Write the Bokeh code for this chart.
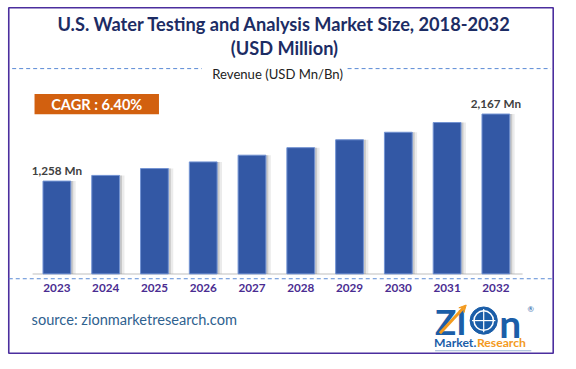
from bokeh.plotting import figure
from bokeh.models import Range1d, Label, ColumnDataSource, Arrow, VeeHead
from bokeh.embed import file_html
from bokeh.resources import INLINE
from bokeh.core.properties import value
from bokeh.transform import dodge

# ---------------- data ----------------
years = [2023, 2024, 2025, 2026, 2027, 2028, 2029, 2030, 2031, 2032]
revenue = [1258, 1335, 1428, 1518, 1609, 1711, 1818, 1920, 2052, 2167]
year_labels = [str(y) for y in years]
title_line1 = "U.S. Water Testing and Analysis Market Size, 2018-2032"
title_line2 = "(USD Million)"
legend_text = "Revenue (USD Mn/Bn)"
cagr_text = "CAGR : 6.40%"
source_text = "source: zionmarketresearch.com"
unit = "Mn"

# ---------------- reference-pixel -> data helpers ----------------
REF_W, REF_H = 576, 369
S = 560 / REF_W                    # canvas scale
W, H = 560, round(REF_H * S)
BASE_PY = 281.0      # ref y of the bar baseline
TOP_PY = 116.7       # ref y of the tallest bar top
K = max(revenue) / (BASE_PY - TOP_PY)
X0_PX = 58.0         # ref x of first bar centre
X_STEP = 50.17       # ref px between bars


def X(px):
    return years[0] + (px - X0_PX) / X_STEP


def Y(py):
    return (BASE_PY - py) * K


def fs(px):
    return f"{px * S:.1f}px"


FONT = "Lato"
p = figure(width=W, height=H,
           x_range=Range1d(X(0), X(REF_W)), y_range=Range1d(Y(REF_H), Y(0)),
           output_backend="svg", toolbar_location=None,
           x_axis_location=None, y_axis_location=None, min_border=0)
p.grid.visible = False
p.background_fill_color = "white"
p.border_fill_color = "white"
p.outline_line_color = None

src = ColumnDataSource(dict(year=years, revenue=revenue))

# border frame
p.quad(left=[X(8.5)], right=[X(568.5)], top=[Y(7.5)], bottom=[Y(362.5)],
       fill_color=None, line_color="#4B2E9E", line_width=1.6)

# baseline (light gray)
p.segment(x0=[X(33)], y0=[0], x1=[X(537)], y1=[0], line_color="#d4d4d4", line_width=1.5)

# bar shadows
p.vbar(x=dodge("year", 0.10, range=p.x_range), top="revenue", bottom=0, width=0.57,
       source=src, fill_color="#b0b0b0", fill_alpha=0.25, line_color=None)
p.vbar(x=dodge("year", 0.05, range=p.x_range), top="revenue", bottom=0, width=0.57,
       source=src, fill_color="#8a8a8a", fill_alpha=0.35, line_color=None)
# bars
p.vbar(x="year", top="revenue", bottom=0, width=0.57, source=src,
       fill_color="#3358A5", line_color="#7393D3", line_width=1)

# value labels for first and last bar
lab_src = ColumnDataSource(dict(year=[years[0], years[-1]], revenue=[revenue[0], revenue[-1]],
                                label=[f"{revenue[0]:,} {unit}", f"{revenue[-1]:,} {unit}"]))
p.text(x="year", y="revenue", text="label", source=lab_src, text_align="center",
       text_baseline="bottom", y_offset=-4, text_font=value(FONT), text_font_style="bold",
       text_font_size=fs(12), text_color="#404040")

# year labels (category axis)
yl_src = ColumnDataSource(dict(year=years, label=year_labels, ypos=[Y(296)] * len(years)))
p.text(x="year", y="ypos", text="label", source=yl_src, text_align="center",
       text_baseline="middle", text_font=value(FONT), text_font_style="bold",
       text_font_size=fs(12), text_color="#4A2C91")

# dashed lines
p.segment(x0=[X(8.5)], y0=[Y(286)], x1=[X(568.5)], y1=[Y(286)],
          line_color="#5B8BD6", line_dash="4 3", line_width=1)
p.segment(x0=[X(12), X(357)], y0=[Y(70), Y(70)], x1=[X(207), X(566)], y1=[Y(70), Y(70)],
          line_color="#5B8BD6", line_dash="4 3", line_width=1)

# titles
p.add_layout(Label(x=X(292), y=Y(24), text=title_line1, text_align="center",
                   text_baseline="middle", text_font=FONT, text_font_style="bold",
                   text_font_size=fs(18.7), text_color="#1C2C64"))
p.add_layout(Label(x=X(292), y=Y(49), text=title_line2, text_align="center",
                   text_baseline="middle", text_font=FONT, text_font_style="bold",
                   text_font_size=fs(18.7), text_color="#1C2C64"))
p.add_layout(Label(x=X(285), y=Y(76), text=legend_text, text_align="center",
                   text_baseline="middle", text_font=FONT, text_font_size=fs(13.5),
                   text_color="#222222"))

# CAGR box
p.quad(left=[X(35)], right=[X(163)], top=[Y(96)], bottom=[Y(117)],
       fill_color="#D2600F", line_color=None)
p.add_layout(Label(x=X(99), y=Y(106.5), text=cagr_text, text_align="center",
                   text_baseline="middle", text_font=FONT, text_font_style="bold",
                   text_font_size=fs(15), text_color="white"))

# source
p.add_layout(Label(x=X(32), y=Y(328), text=source_text, text_align="left",
                   text_baseline="middle", text_font=FONT, text_font_size=fs(15),
                   text_color="#2F628F"))

# logo
LOGO_BLUE = "#1B5EA8"
LOGO_ORANGE = "#F39A1E"
p.add_layout(Label(x=X(447), y=Y(329), text="ZI", text_align="left",
                   text_baseline="middle", text_font=FONT, text_font_style="bold",
                   text_font_size=fs(36), text_color=LOGO_BLUE))
p.circle(x=[X(497)], y=[Y(329)], radius=14 / X_STEP, fill_color=LOGO_BLUE, line_color=LOGO_BLUE)
p.circle(x=[X(497)], y=[Y(329)], radius=10 / X_STEP, fill_color=None, line_color="white", line_width=1.5)
p.segment(x0=[X(485), X(497)], y0=[Y(329), Y(317)], x1=[X(509), X(497)], y1=[Y(329), Y(341)],
          line_color="white", line_width=1.2)
p.add_layout(Label(x=X(513), y=Y(331), text="n", text_align="left",
                   text_baseline="middle", text_font=FONT, text_font_style="bold",
                   text_font_size=fs(40), text_color=LOGO_BLUE))
p.add_layout(Arrow(end=VeeHead(size=7, fill_color=LOGO_ORANGE, line_color=LOGO_ORANGE),
                   x_start=X(452), y_start=Y(342), x_end=X(479), y_end=Y(313),
                   line_color=LOGO_ORANGE, line_width=3))
p.add_layout(Label(x=X(542), y=Y(317), text="®", text_align="left",
                   text_baseline="middle", text_font=FONT, text_font_size=fs(8),
                   text_color=LOGO_BLUE))
p.add_layout(Label(x=X(446), y=Y(352), text="Market.", text_align="left",
                   text_baseline="middle", text_font=FONT, text_font_style="bold",
                   text_font_size=fs(12.5), text_color=LOGO_BLUE))
p.add_layout(Label(x=X(490), y=Y(352), text="Research", text_align="left",
                   text_baseline="middle", text_font=FONT, text_font_style="bold",
                   text_font_size=fs(12.5), text_color=LOGO_ORANGE))
p.segment(x0=[X(447)], y0=[Y(360)], x1=[X(546)], y1=[Y(360)], line_color="#9db4d6", line_width=1)

open("out.html", "w").write(file_html(p, INLINE))
